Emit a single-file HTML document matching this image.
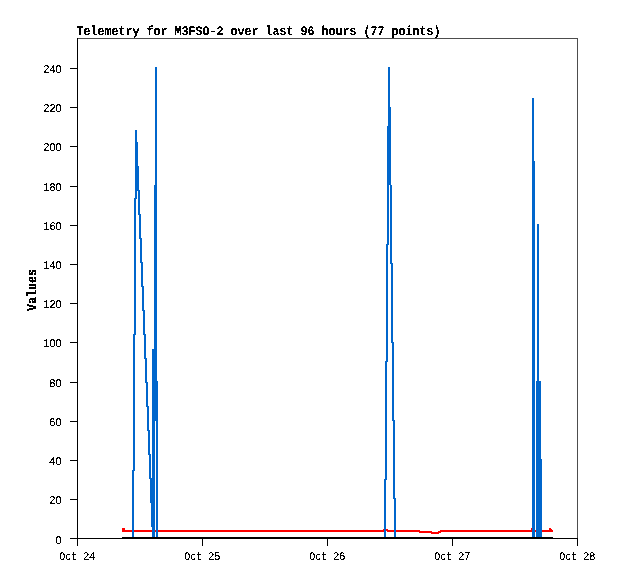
<!DOCTYPE html>
<html lang="en">
<head>
<meta charset="utf-8">
<title>Telemetry for M3FSO-2 over last 96 hours (77 points)</title>
<style>
html,body{margin:0;padding:0;background:#fff;}
body{width:618px;height:579px;overflow:hidden;}
svg{display:block;}
</style>
</head>
<body>
<svg width="618" height="579" viewBox="0 0 618 579" shape-rendering="crispEdges">
<rect width="618" height="579" fill="#fff"/>
<path fill="#4d4d4d" d="M77 38h501v1h-501zM577 38h1v501h-1z"/>
<path fill="#000" d="M77 38h1v508h-1zM70 538h508v1h-508zM202 539h1v7h-1zM327 539h1v7h-1zM452 539h1v7h-1zM577 539h1v7h-1zM70 499h7v1h-7zM70 460h7v1h-7zM70 421h7v1h-7zM70 382h7v1h-7zM70 342h7v1h-7zM70 303h7v1h-7zM70 264h7v1h-7zM70 225h7v1h-7zM70 186h7v1h-7zM70 146h7v1h-7zM70 107h7v1h-7zM70 68h7v1h-7z"/>
<path fill="#ff0000" d="M122 528h3v4h-3zM531 528h2v4h-2zM549 528h2v4h-2zM386 529h1v2h-1zM383 529h3v3h-3zM387 529h1v3h-1zM551 529h1v3h-1zM125 530h258v2h-258zM388 530h31v2h-31zM441 530h90v2h-90zM533 530h16v2h-16zM552 530h1v2h-1zM419 530h1v3h-1zM440 530h1v3h-1zM420 531h11v2h-11zM439 531h1v2h-1zM431 531h1v3h-1zM438 531h1v3h-1zM432 532h6v2h-6z"/>
<path fill="#0066cc" d="M389 67h1v118h-1zM388 67h1v178h-1zM155 67h1v354h-1zM156 67h1v472h-1zM532 98h2v441h-2zM390 107h1v157h-1zM387 126h1v236h-1zM136 130h1v69h-1zM135 130h1v205h-1zM137 142h1v49h-1zM534 161h1v378h-1zM138 166h1v49h-1zM391 185h1v158h-1zM154 185h1v354h-1zM139 190h1v49h-1zM134 198h1v273h-1zM140 214h1v49h-1zM537 224h2v315h-2zM141 238h1v49h-1zM386 244h1v236h-1zM142 262h1v49h-1zM392 263h1v158h-1zM143 286h1v49h-1zM144 310h1v49h-1zM145 334h1v49h-1zM133 334h1v205h-1zM393 342h1v157h-1zM152 349h2v190h-2zM146 358h1v49h-1zM385 361h1v178h-1zM157 381h1v158h-1zM536 381h1v158h-1zM539 381h2v158h-2zM147 382h1v49h-1zM148 406h1v49h-1zM394 420h1v119h-1zM149 430h1v49h-1zM150 454h1v49h-1zM541 459h1v80h-1zM132 470h1v69h-1zM151 478h1v49h-1zM384 479h1v60h-1zM395 498h1v41h-1z"/>
<path fill="#000000" d="M122 537h431v2h-431z"/>
<defs><filter id="px" x="-5%" y="-5%" width="110%" height="110%" color-interpolation-filters="sRGB"><feComponentTransfer><feFuncA type="discrete" tableValues="0 0 1 1 1"/></feComponentTransfer></filter><filter id="pxb" x="-5%" y="-5%" width="110%" height="110%" color-interpolation-filters="sRGB"><feComponentTransfer><feFuncA type="discrete" tableValues="0 1 1"/></feComponentTransfer></filter></defs>
<g fill="#000" text-rendering="geometricPrecision">
<text x="76.5" y="35" font-family="'Liberation Mono', 'DejaVu Sans Mono', monospace" font-size="13" font-weight="bold" filter="url(#px)" textLength="364" lengthAdjust="spacingAndGlyphs">Telemetry for M3FSO-2 over last 96 hours (77 points)</text>
<text transform="translate(36 311) rotate(-90)" font-family="'Liberation Mono', 'DejaVu Sans Mono', monospace" font-size="13.4" font-weight="bold" filter="url(#pxb)" textLength="42" lengthAdjust="spacingAndGlyphs">Values</text>
<text x="55.25" y="544" font-family="'Liberation Sans', 'DejaVu Sans', sans-serif" font-size="11.2" filter="url(#px)" textLength="6.4" lengthAdjust="spacingAndGlyphs">0</text>
<text x="49.25" y="504" font-family="'Liberation Sans', 'DejaVu Sans', sans-serif" font-size="11.2" filter="url(#px)" textLength="12.4" lengthAdjust="spacingAndGlyphs">20</text>
<text x="49.25" y="465" font-family="'Liberation Sans', 'DejaVu Sans', sans-serif" font-size="11.2" filter="url(#px)" textLength="12.4" lengthAdjust="spacingAndGlyphs">40</text>
<text x="49.25" y="426" font-family="'Liberation Sans', 'DejaVu Sans', sans-serif" font-size="11.2" filter="url(#px)" textLength="12.4" lengthAdjust="spacingAndGlyphs">60</text>
<text x="49.25" y="387" font-family="'Liberation Sans', 'DejaVu Sans', sans-serif" font-size="11.2" filter="url(#px)" textLength="12.4" lengthAdjust="spacingAndGlyphs">80</text>
<text x="43.25" y="347" font-family="'Liberation Sans', 'DejaVu Sans', sans-serif" font-size="11.2" filter="url(#px)" textLength="18.4" lengthAdjust="spacingAndGlyphs">100</text>
<text x="43.25" y="308" font-family="'Liberation Sans', 'DejaVu Sans', sans-serif" font-size="11.2" filter="url(#px)" textLength="18.4" lengthAdjust="spacingAndGlyphs">120</text>
<text x="43.25" y="269" font-family="'Liberation Sans', 'DejaVu Sans', sans-serif" font-size="11.2" filter="url(#px)" textLength="18.4" lengthAdjust="spacingAndGlyphs">140</text>
<text x="43.25" y="230" font-family="'Liberation Sans', 'DejaVu Sans', sans-serif" font-size="11.2" filter="url(#px)" textLength="18.4" lengthAdjust="spacingAndGlyphs">160</text>
<text x="43.25" y="191" font-family="'Liberation Sans', 'DejaVu Sans', sans-serif" font-size="11.2" filter="url(#px)" textLength="18.4" lengthAdjust="spacingAndGlyphs">180</text>
<text x="43.25" y="151" font-family="'Liberation Sans', 'DejaVu Sans', sans-serif" font-size="11.2" filter="url(#px)" textLength="18.4" lengthAdjust="spacingAndGlyphs">200</text>
<text x="43.25" y="112" font-family="'Liberation Sans', 'DejaVu Sans', sans-serif" font-size="11.2" filter="url(#px)" textLength="18.4" lengthAdjust="spacingAndGlyphs">220</text>
<text x="43.25" y="73" font-family="'Liberation Sans', 'DejaVu Sans', sans-serif" font-size="11.2" filter="url(#px)" textLength="18.4" lengthAdjust="spacingAndGlyphs">240</text>
<text y="560" filter="url(#px)"><tspan x="59.25" font-family="'Liberation Mono', 'DejaVu Sans Mono', monospace" font-size="11.6" textLength="18" lengthAdjust="spacingAndGlyphs">Oct</tspan> <tspan x="83.25" font-family="'Liberation Sans', 'DejaVu Sans', sans-serif" font-size="11.2" textLength="12" lengthAdjust="spacingAndGlyphs">24</tspan></text>
<text y="560" filter="url(#px)"><tspan x="184.25" font-family="'Liberation Mono', 'DejaVu Sans Mono', monospace" font-size="11.6" textLength="18" lengthAdjust="spacingAndGlyphs">Oct</tspan> <tspan x="208.25" font-family="'Liberation Sans', 'DejaVu Sans', sans-serif" font-size="11.2" textLength="12" lengthAdjust="spacingAndGlyphs">25</tspan></text>
<text y="560" filter="url(#px)"><tspan x="309.25" font-family="'Liberation Mono', 'DejaVu Sans Mono', monospace" font-size="11.6" textLength="18" lengthAdjust="spacingAndGlyphs">Oct</tspan> <tspan x="333.25" font-family="'Liberation Sans', 'DejaVu Sans', sans-serif" font-size="11.2" textLength="12" lengthAdjust="spacingAndGlyphs">26</tspan></text>
<text y="560" filter="url(#px)"><tspan x="434.25" font-family="'Liberation Mono', 'DejaVu Sans Mono', monospace" font-size="11.6" textLength="18" lengthAdjust="spacingAndGlyphs">Oct</tspan> <tspan x="458.25" font-family="'Liberation Sans', 'DejaVu Sans', sans-serif" font-size="11.2" textLength="12" lengthAdjust="spacingAndGlyphs">27</tspan></text>
<text y="560" filter="url(#px)"><tspan x="559.25" font-family="'Liberation Mono', 'DejaVu Sans Mono', monospace" font-size="11.6" textLength="18" lengthAdjust="spacingAndGlyphs">Oct</tspan> <tspan x="583.25" font-family="'Liberation Sans', 'DejaVu Sans', sans-serif" font-size="11.2" textLength="12" lengthAdjust="spacingAndGlyphs">28</tspan></text>
</g>
</svg>
</body>
</html>
